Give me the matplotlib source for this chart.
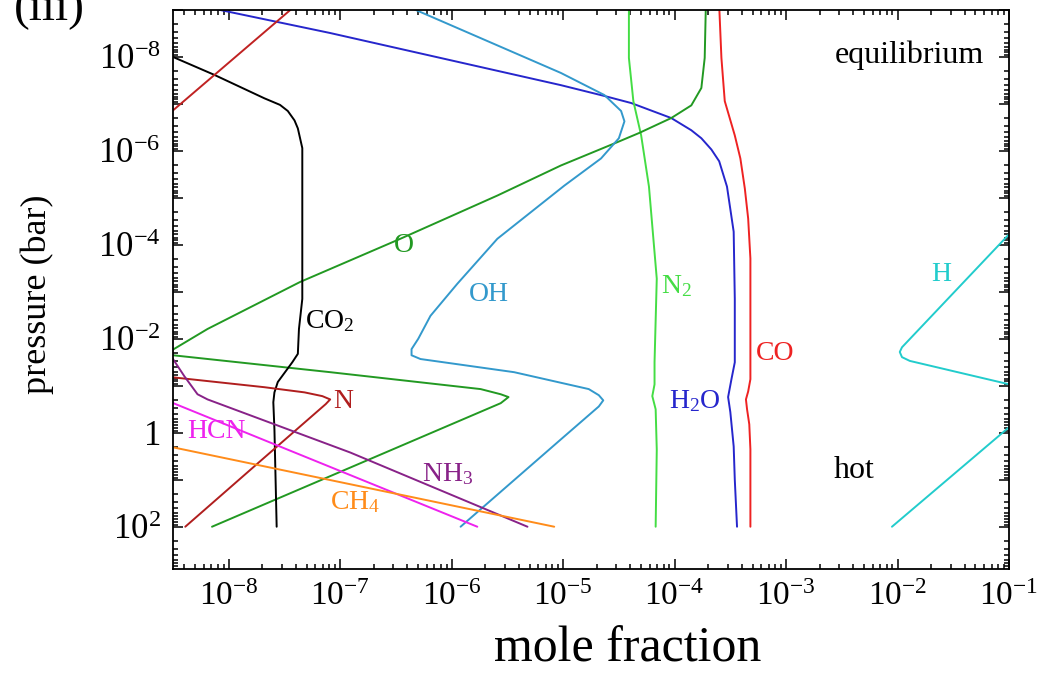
import numpy as np
import matplotlib
matplotlib.use("Agg")
import matplotlib.pyplot as plt
from matplotlib.ticker import FixedLocator, NullFormatter, FuncFormatter

plt.rcParams["font.family"] = ["Liberation Serif", "DejaVu Serif"]
plt.rcParams["mathtext.fontset"] = "custom"
plt.rcParams["mathtext.rm"] = "Liberation Serif"
plt.rcParams["mathtext.it"] = "Liberation Serif:italic"
plt.rcParams["mathtext.bf"] = "Liberation Serif:bold"

# Abundance profiles: log10(mole fraction) vs log10(pressure / bar)
co_x = [-3.60, -3.58, -3.55, -3.46, -3.41, -3.37, -3.34, -3.32, -3.32, -3.34, -3.36, -3.35, -3.33, -3.32, -3.32]
co_p = [-9.10, -7.98, -7.06, -6.33, -5.84, -5.20, -4.56, -3.71, -1.14, -0.88, -0.71, -0.50, -0.18, 0.35, 2.00]

h2o_x = [-8.60, -7.09, -5.02, -4.63, -4.39, -4.03, -3.85, -3.76, -3.67, -3.60, -3.53, -3.47, -3.46, -3.46,
         -3.49, -3.52, -3.50, -3.47, -3.46, -3.44]
h2o_p = [-9.26, -8.51, -7.40, -7.17, -7.02, -6.70, -6.44, -6.27, -6.03, -5.78, -5.24, -4.28, -2.85, -1.50,
         -1.14, -0.76, -0.44, 0.29, 1.00, 2.00]

n2_x = [-4.41, -4.41, -4.37, -4.30, -4.23, -4.16, -4.18, -4.18, -4.20, -4.17, -4.16, -4.17]
n2_p = [-9.10, -7.98, -7.06, -6.33, -5.24, -3.28, -1.50, -1.03, -0.78, -0.50, 0.36, 2.00]

o_x = [-3.71, -3.72, -3.73, -3.76, -3.85, -4.03, -4.32, -4.54, -5.02, -5.59, -6.46, -7.36, -8.19, -8.55,
       -8.50, -7.09, -5.74, -5.56, -5.49, -5.56, -8.15]
o_p = [-9.26, -9.05, -7.98, -7.34, -6.97, -6.70, -6.38, -6.16, -5.69, -5.05, -4.13, -3.21, -2.21, -1.70,
       -1.65, -1.29, -0.93, -0.82, -0.76, -0.63, 2.00]

oh_x = [-6.58, -6.37, -5.02, -4.63, -4.48, -4.45, -4.50, -4.66, -4.99, -5.59, -5.95, -6.19, -6.30, -6.36,
        -6.36, -6.28, -5.44, -4.77, -4.68, -4.64, -4.68, -5.02, -5.92]
oh_p = [-9.26, -9.05, -7.66, -7.19, -6.85, -6.63, -6.27, -5.84, -5.26, -4.13, -3.17, -2.49, -2.00, -1.78,
        -1.65, -1.57, -1.29, -0.93, -0.80, -0.69, -0.56, 0.14, 2.00]

co2_x = [-8.62, -8.50, -8.13, -7.68, -7.54, -7.47, -7.41, -7.38, -7.34, -7.34, -7.37, -7.38, -7.43, -7.56,
         -7.59, -7.60, -7.59, -7.57]
co2_p = [-8.13, -8.00, -7.62, -7.12, -6.98, -6.85, -6.65, -6.48, -6.06, -2.85, -2.21, -1.68, -1.50, -1.08,
         -0.86, -0.65, -0.07, 2.00]

n_upper_x = [-7.32, -8.58]
n_upper_p = [-9.26, -6.70]
n_lower_x = [-8.58, -8.50, -7.68, -7.32, -7.16, -7.09, -7.13, -7.72, -8.39]
n_lower_p = [-1.21, -1.18, -0.97, -0.86, -0.78, -0.71, -0.61, 0.61, 2.00]

nh3_x = [-8.57, -8.50, -8.40, -8.28, -8.19, -6.91, -5.32]
nh3_p = [-1.78, -1.57, -1.21, -0.82, -0.71, 0.42, 2.00]

hcn_x = [-8.58, -5.77]
hcn_p = [-0.71, 2.00]

ch4_x = [-8.58, -5.08]
ch4_p = [0.27, 2.00]

h_upper_x = [-0.83, -0.97, -1.96, -1.98, -1.96, -1.89, -0.96, -0.83]
h_upper_p = [-4.67, -4.30, -1.82, -1.72, -1.61, -1.53, -1.01, -0.93]
h_lower_x = [-0.83, -2.05]
h_lower_p = [-0.46, 2.00]

# Curve colours and in-plot labels (label text, log10 x, log10 p)
profiles = [
    (co_x, co_p, "#ee2222"),
    (h2o_x, h2o_p, "#2626cc"),
    (n2_x, n2_p, "#44dd44"),
    (o_x, o_p, "#229922"),
    (oh_x, oh_p, "#3399cc"),
    (co2_x, co2_p, "black"),
    (n_upper_x, n_upper_p, "#c02222"),
    (n_lower_x, n_lower_p, "#b01e1e"),
    (nh3_x, nh3_p, "#882288"),
    (hcn_x, hcn_p, "#ee22ee"),
    (ch4_x, ch4_p, "#ff8c1a"),
    (h_upper_x, h_upper_p, "#22cccc"),
    (h_lower_x, h_lower_p, "#22cccc"),
]

species_labels = [
    ("O", -6.43, -3.98, "#229922"),
    ("OH", -5.67, -2.94, "#3399cc"),
    ("CO$_2$", -7.09, -2.38, "black"),
    ("N$_2$", -3.98, -3.13, "#44dd44"),
    ("CO", -3.10, -1.68, "#ee2222"),
    ("H$_2$O", -3.82, -0.67, "#2626cc"),
    ("N", -6.97, -0.67, "#b01e1e"),
    ("HCN", -8.11, -0.03, "#ee22ee"),
    ("NH$_3$", -6.04, 0.89, "#882288"),
    ("CH$_4$", -6.87, 1.47, "#ff8c1a"),
    ("H", -1.61, -3.36, "#22cccc"),
]

fig = plt.figure(figsize=(10.38, 6.74), dpi=100)
ax = fig.add_axes([173 / 1038, 1 - 569 / 674, 836 / 1038, 559 / 674])

for xs, ps, col in profiles:
    ax.plot(10.0 ** np.array(xs), 10.0 ** np.array(ps), color=col, lw=1.4,
            solid_joinstyle="round", solid_capstyle="round")

for txt, lx, lp, col in species_labels:
    ax.text(10.0 ** lx, 10.0 ** lp, txt, color=col, fontsize=20, ha="center", va="center")

ax.text(10.0 ** -1.89, 10.0 ** -8.04, "equilibrium", fontsize=23, ha="center", va="center")
ax.text(10.0 ** -2.39, 10.0 ** 0.80, "hot", fontsize=23, ha="center", va="center")

ax.set_xscale("log")
ax.set_yscale("log")
ax.set_xlim(10.0 ** -8.5, 1e-1)
ax.set_ylim(10.0 ** 2.9, 1e-9)

# ticks: every decade is major, minor ticks at 2..9
xmaj = [10.0 ** k for k in range(-8, 0)]
xmin = [m * 10.0 ** k for k in range(-9, 0) for m in range(2, 10)]
ymaj = [10.0 ** k for k in range(-9, 3)]
ymin = [m * 10.0 ** k for k in range(-9, 3) for m in range(2, 10)]
ax.xaxis.set_major_locator(FixedLocator(xmaj))
ax.xaxis.set_minor_locator(FixedLocator(xmin))
ax.yaxis.set_major_locator(FixedLocator(ymaj))
ax.yaxis.set_minor_locator(FixedLocator(ymin))


def xfmt(v, pos):
    e = int(round(np.log10(v)))
    return r"$10^{%d}$" % e


def yfmt(v, pos):
    e = int(round(np.log10(v)))
    if e % 2:
        return ""
    if e == 0:
        return "$1$"
    return r"$10^{%d}$" % e


ax.xaxis.set_major_formatter(FuncFormatter(xfmt))
ax.yaxis.set_major_formatter(FuncFormatter(yfmt))
ax.xaxis.set_minor_formatter(NullFormatter())
ax.yaxis.set_minor_formatter(NullFormatter())

ax.tick_params(which="both", direction="in", top=True, right=True, width=1.1)
ax.tick_params(which="major", length=7.5)
ax.tick_params(which="minor", length=3.8)
ax.tick_params(axis="x", which="major", labelsize=24, pad=9)
ax.tick_params(axis="y", which="major", labelsize=25, pad=9)
for sp in ax.spines.values():
    sp.set_linewidth(1.3)

ax.set_xlabel("mole fraction", fontsize=36)
ax.xaxis.label.set_va("baseline")
ax.xaxis.set_label_coords((628 - 173) / 836, -(662 - 569) / 559)
ax.set_ylabel("pressure (bar)", fontsize=26)
ax.yaxis.set_label_coords(-(173 - 54) / 836, (569 - 294) / 559)

fig.text(14 / 1038, 1 - 20 / 674, "(iii)", fontsize=34, ha="left", va="baseline")

fig.savefig("out.png", dpi=100)
